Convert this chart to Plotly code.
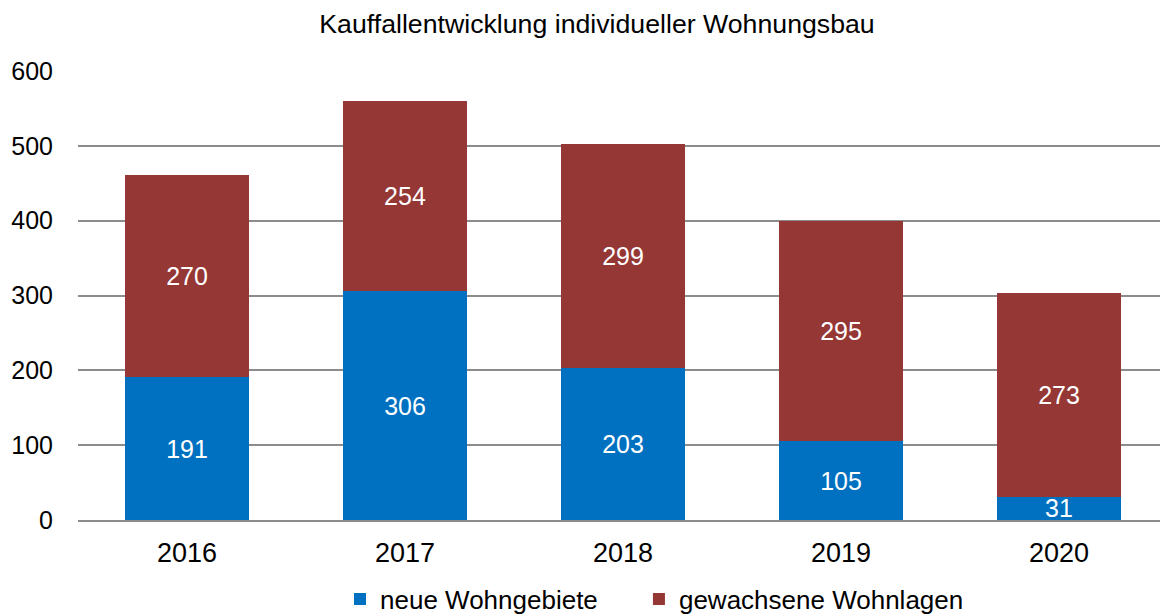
import plotly.graph_objects as go

years = ['2016', '2017', '2018', '2019', '2020']
neue = [191, 306, 203, 105, 31]
gewachsen = [270, 254, 299, 295, 273]

blue = '#0070C0'
red = '#953735'
font = 'Liberation Sans, Arial, sans-serif'

# page body has an 8px default margin, so the figure is 8px smaller each way
W, H = 1160, 608

fig = go.Figure()
fig.add_trace(go.Bar(
    x=years, y=neue, name='neue Wohngebiete' + '\u00a0' * 5,  # padding = gap in legend
    marker_color=blue, text=neue,
))
fig.add_trace(go.Bar(
    x=years, y=gewachsen, name='gewachsene Wohnlagen',
    marker_color=red, text=gewachsen,
))

fig.update_traces(marker_line_width=0, cliponaxis=False, textposition='inside',
                  insidetextanchor='middle', textangle=0, constraintext='none',
                  textfont=dict(color='white', size=25))
fig.update_layout(
    barmode='stack',
    bargap=0.43,
    width=W, height=H,
    margin=dict(l=70, r=0, t=63, b=96),
    font=dict(family=font, size=27, color='black'),
    plot_bgcolor='white', paper_bgcolor='white',
    title=dict(text='Kauffallentwicklung individueller Wohnungsbau',
               x=589 / W, xanchor='center', y=1 - 15.5 / H, yanchor='middle',
               font=dict(size=26.7)),
    legend=dict(orientation='h', xref='container', yref='container',
                x=332 / W, xanchor='left', y=17 / H, yanchor='middle',
                font=dict(size=26), traceorder='normal'),
    xaxis=dict(showgrid=False, showline=True, linecolor='#8c8c8c', linewidth=1.5,
               ticks='', ticklabelstandoff=8, automargin=False),
    yaxis=dict(range=[0, 600], dtick=100, showgrid=True, gridcolor='#8c8c8c',
               gridwidth=1.5, zeroline=False, showline=False, ticks='',
               tickfont=dict(size=25), ticklabelstandoff=24, automargin=False),
)

fig.write_html('out.html')
